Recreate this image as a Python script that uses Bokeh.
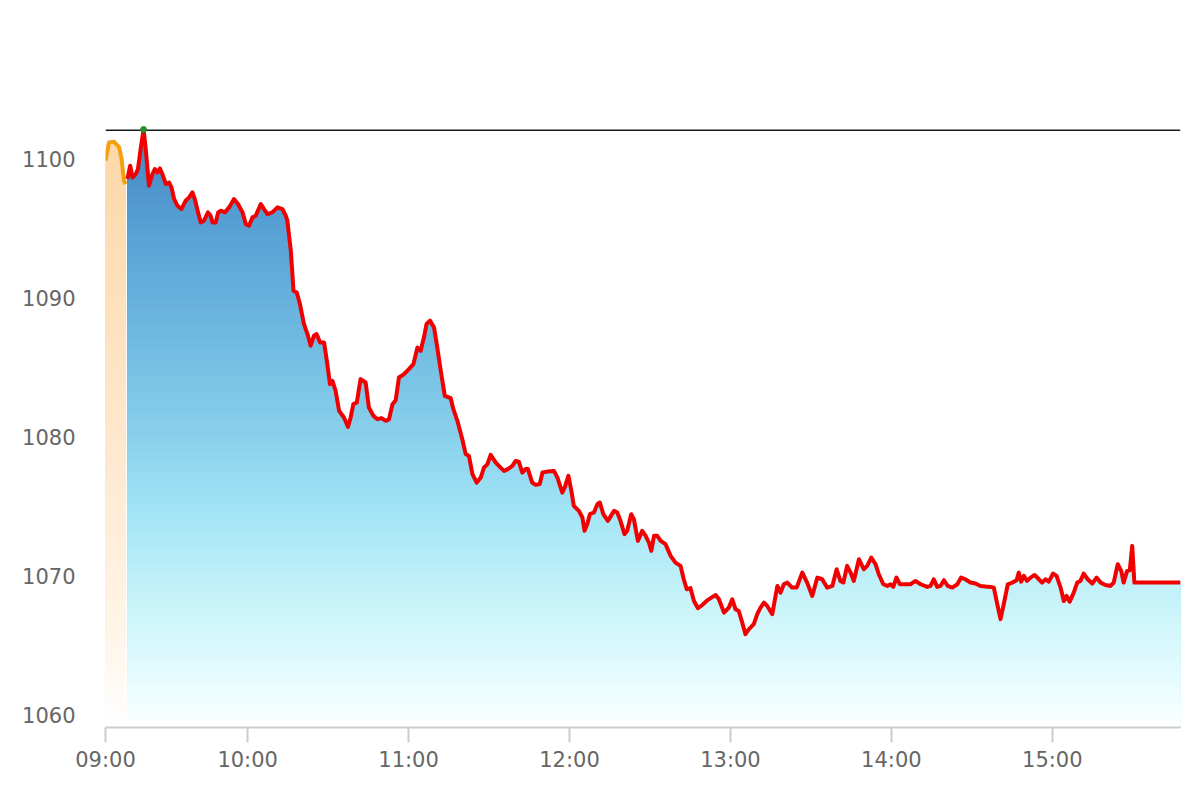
import numpy as np
from bokeh.plotting import figure
from bokeh.models import Range1d, FixedTicker, Span
from bokeh.embed import file_html
from bokeh.resources import INLINE

# Pre-open (auction) section: minutes after 09:00 (axis units) and index values
pre_t = [7.0, 8.3, 10.2, 12.1, 13.0, 13.9, 14.6]
pre_v = [1099.86, 1101.17, 1101.22, 1100.81, 1099.98, 1098.42, 1098.18]

# Continuous session
t = [15.2, 16.2, 17.1, 18.3, 19.1, 20.1, 21.2, 22.0, 23.2, 24.5, 25.4, 26.4, 27.3, 28.2, 29.5,
     30.7, 31.6, 32.6, 33.8, 35.3, 36.9, 38.2, 39.4, 40.3, 41.5, 42.5, 43.7, 45.2, 46.2, 46.9,
     48.1, 49.0, 50.0, 51.5, 53.1, 54.9, 56.4, 58.1, 59.3, 60.5, 61.8, 63.0, 64.9, 66.1, 67.4,
     69.2, 71.1, 73.0, 74.2, 74.8, 76.1, 77.1, 78.3, 79.5, 81.0, 82.3, 83.5, 84.7, 85.7, 87.0,
     88.5, 89.7, 90.7, 91.6, 92.8, 94.1, 95.9, 97.4, 98.4, 99.4, 100.7, 102.1, 104.0, 105.2, 106.9,
     108.4, 109.9, 111.5, 112.7, 114.0, 115.2, 116.4, 118.3, 120.1, 121.8, 123.3, 124.5, 125.7, 126.7, 128.0,
     129.5, 130.7, 132.0, 133.5, 135.7, 136.7, 138.2, 140.0, 141.3, 142.5, 143.8, 145.4, 146.9, 148.1, 149.4,
     150.6, 152.5, 154.3, 155.6, 157.0, 158.7, 159.9, 161.1, 162.4, 163.6, 164.5, 166.1, 167.4, 168.9, 169.9,
     171.7, 174.2, 175.5, 177.3, 178.2, 179.6, 180.7, 181.6, 183.5, 184.8, 185.6, 186.6, 187.6, 189.1, 190.4,
     191.3, 192.6, 194.3, 196.6, 197.8, 199.0, 200.5, 201.5, 203.0, 204.0, 205.5, 207.1, 208.4, 209.6, 210.5,
     211.5, 212.7, 214.0, 215.8, 217.7, 219.5, 221.4, 222.6, 223.7, 225.1, 226.4, 227.9, 229.5, 231.1, 232.6,
     234.5, 235.7, 237.6, 239.4, 240.7, 241.9, 243.1, 244.4, 245.6, 246.9, 248.7, 250.0, 251.2, 252.5, 253.7,
     255.6, 257.5, 258.7, 259.9, 261.2, 263.0, 264.7, 266.8, 268.6, 270.5, 272.4, 274.2, 276.1, 278.0, 279.6,
     281.0, 282.1, 283.5, 284.8, 286.0, 287.9, 289.7, 291.0, 292.5, 294.1, 295.3, 297.0, 298.5, 299.7, 300.7,
     301.9, 303.2, 305.3, 307.1, 309.0, 310.9, 313.4, 314.6, 315.8, 317.1, 318.3, 319.6, 321.0, 322.7, 324.6,
     326.0, 327.6, 329.5, 331.4, 333.2, 335.1, 337.0, 338.2, 339.5, 340.7, 341.9, 343.4, 345.1, 346.7, 347.5,
     348.4, 349.4, 350.6, 351.9, 353.4, 355.0, 356.2, 357.5, 358.7, 360.3, 361.6, 363.1, 364.3, 365.3, 366.5,
     368.0, 369.3, 370.5, 371.7, 373.2, 374.9, 376.5, 378.0, 379.8, 381.7, 382.9, 384.4, 385.7, 386.6, 387.9,
     388.9, 389.8, 390.6, 407.8]
v = [1098.54, 1099.50, 1098.65, 1098.90, 1099.26, 1100.70, 1102.10, 1100.70, 1098.06, 1098.90, 1099.26, 1099.01, 1099.30, 1098.90, 1098.18,
     1098.29, 1097.94, 1097.10, 1096.62, 1096.38, 1096.98, 1097.22, 1097.58, 1097.10, 1096.14, 1095.42, 1095.54, 1096.14, 1095.90, 1095.42,
     1095.42, 1096.14, 1096.26, 1096.14, 1096.50, 1097.10, 1096.74, 1096.14, 1095.30, 1095.18, 1095.78, 1095.90, 1096.74, 1096.38, 1096.02,
     1096.14, 1096.50, 1096.38, 1095.90, 1095.54, 1093.38, 1090.50, 1090.38, 1089.55, 1088.11, 1087.39, 1086.55, 1087.27, 1087.39, 1086.78,
     1086.78, 1085.23, 1083.79, 1084.03, 1083.31, 1081.87, 1081.39, 1080.72, 1081.39, 1082.35, 1082.47, 1084.15, 1083.91, 1082.11, 1081.51,
     1081.27, 1081.35, 1081.15, 1081.27, 1082.35, 1082.64, 1084.27, 1084.51, 1084.87, 1085.23, 1086.42, 1086.19, 1087.14, 1088.11, 1088.35,
     1087.86, 1086.42, 1084.75, 1082.95, 1082.78, 1081.99, 1081.15, 1079.84, 1078.76, 1078.63, 1077.32, 1076.71, 1077.07, 1077.79, 1078.04,
     1078.71, 1078.15, 1077.79, 1077.55, 1077.68, 1077.91, 1078.27, 1078.22, 1077.43, 1077.68, 1077.68, 1076.71, 1076.55, 1076.60, 1077.43,
     1077.50, 1077.55, 1077.07, 1075.99, 1076.35, 1077.19, 1076.12, 1075.04, 1074.68, 1074.20, 1073.24, 1073.72, 1074.44, 1074.56, 1075.16,
     1075.28, 1074.44, 1073.96, 1074.68, 1074.56, 1073.96, 1073.00, 1073.24, 1074.44, 1074.08, 1072.52, 1073.24, 1072.88, 1072.40, 1071.80,
     1072.88, 1072.88, 1072.52, 1072.28, 1071.44, 1070.96, 1070.72, 1069.76, 1069.04, 1069.12, 1068.20, 1067.68, 1067.91, 1068.20, 1068.40,
     1068.63, 1068.32, 1067.36, 1067.72, 1068.32, 1067.60, 1067.48, 1066.64, 1065.81, 1066.17, 1066.53, 1067.25, 1067.72, 1068.08, 1067.84,
     1067.25, 1069.28, 1068.80, 1069.40, 1069.52, 1069.16, 1069.16, 1070.24, 1069.52, 1068.56, 1069.88, 1069.76, 1069.16, 1069.28, 1070.48,
     1069.64, 1069.52, 1070.72, 1070.24, 1069.64, 1071.20, 1070.48, 1070.72, 1071.32, 1070.84, 1070.12, 1069.40, 1069.28, 1069.40, 1069.21,
     1069.88, 1069.40, 1069.40, 1069.40, 1069.64, 1069.40, 1069.21, 1069.28, 1069.76, 1069.21, 1069.28, 1069.69, 1069.28, 1069.16, 1069.40,
     1069.88, 1069.76, 1069.52, 1069.45, 1069.28, 1069.24, 1069.21, 1069.16, 1067.96, 1066.89, 1067.96, 1069.40, 1069.52, 1069.69, 1070.24,
     1069.59, 1070.00, 1069.64, 1069.88, 1070.07, 1069.76, 1069.52, 1069.76, 1069.59, 1070.17, 1070.00, 1069.16, 1068.20, 1068.56, 1068.15,
     1068.80, 1069.52, 1069.64, 1070.17, 1069.76, 1069.45, 1069.88, 1069.52, 1069.35, 1069.28, 1069.52, 1070.84, 1070.36, 1069.52, 1070.36,
     1070.41, 1072.16, 1069.52, 1069.52]

x_ticks = [7, 60, 120, 180, 240, 300, 360]
x_labels = ["09:00", "10:00", "11:00", "12:00", "13:00", "14:00", "15:00"]
y_ticks = [1060, 1070, 1080, 1090, 1100]

y_bottom = 1059.1
y_top = max(v)

FONT = "DejaVu Sans"

p = figure(width=1184, height=784, output_backend="svg", toolbar_location=None,
           x_range=Range1d(7.0, 407.8), y_range=Range1d(y_bottom, y_top),
           min_border_left=105, min_border_right=4, min_border_top=129, min_border_bottom=57)
p.outline_line_color = None
p.grid.visible = False
p.background_fill_color = "white"
p.border_fill_color = "white"


def hex2rgb(h):
    h = h.lstrip("#")
    return [int(h[i:i + 2], 16) for i in (0, 2, 4)]


def grad_color(stops, f):
    for (f0, c0), (f1, c1) in zip(stops[:-1], stops[1:]):
        if f0 <= f <= f1:
            a = (f - f0) / (f1 - f0) if f1 > f0 else 0
            r0, r1 = hex2rgb(c0), hex2rgb(c1)
            c = [round(r0[i] + (r1[i] - r0[i]) * a) for i in range(3)]
            return "#%02x%02x%02x" % tuple(c)
    return stops[-1][1]


blue_stops = [(0.0, "#4589c5"), (0.06, "#4a8fc8"), (0.16, "#56a0d4"), (0.37, "#72bde2"),
              (0.54, "#8dd4ee"), (0.65, "#a6e6f6"), (0.82, "#cef6fb"), (0.95, "#eefdff"), (1.0, "#ffffff")]
orange_stops = [(0.0, "#fdd6a6"), (0.06, "#fdd9ab"), (0.5, "#fee7cb"), (0.85, "#fff5e9"), (1.0, "#ffffff")]


def gradient_area(xs, ys, stops, n=80):
    ys = np.asarray(ys, dtype=float)
    h = (y_top - y_bottom) / n
    for k in range(n - 1, -1, -1):
        band_top = y_bottom + (k + 1) * h
        f = 1 - (k + 0.5) / n
        col = grad_color(stops, f)
        p.varea(x=xs, y1=y_bottom, y2=np.minimum(ys, band_top), fill_color=col, fill_alpha=1.0)


gradient_area(pre_t, pre_v, orange_stops)
gradient_area(t, v, blue_stops)

p.add_layout(Span(location=y_top, dimension="width", line_color="#1a1a1a", line_width=3))

p.line(pre_t, pre_v, line_color="#f5a00f", line_width=4, line_join="round")
p.line(t, v, line_color="#f00000", line_width=4, line_join="round")

imax = int(np.argmax(v))
dot = p.scatter([t[imax]], [v[imax]], size=6, color="#2e8b2e", level="overlay")

# axes
xa = p.xaxis[0]
xa.ticker = FixedTicker(ticks=x_ticks)
xa.major_label_overrides = {k: lab for k, lab in zip(x_ticks, x_labels)}
xa.axis_line_color = "#cccccc"
xa.axis_line_width = 2
xa.major_tick_line_color = "#cccccc"
xa.major_tick_line_width = 2
xa.major_tick_out = 15
xa.major_tick_in = 0
xa.minor_tick_line_color = None
xa.major_label_text_font = FONT
xa.major_label_text_font_size = "21px"
xa.major_label_text_color = "#666666"
xa.major_label_standoff = 5

ya = p.yaxis[0]
ya.ticker = FixedTicker(ticks=y_ticks)
ya.axis_line_color = None
ya.major_tick_line_color = None
ya.minor_tick_line_color = None
ya.major_tick_out = 0
ya.major_tick_in = 0
ya.major_label_text_font = FONT
ya.major_label_text_font_size = "21px"
ya.major_label_text_color = "#666666"
ya.major_label_standoff = 30

open("out.html", "w").write(file_html(p, INLINE))
